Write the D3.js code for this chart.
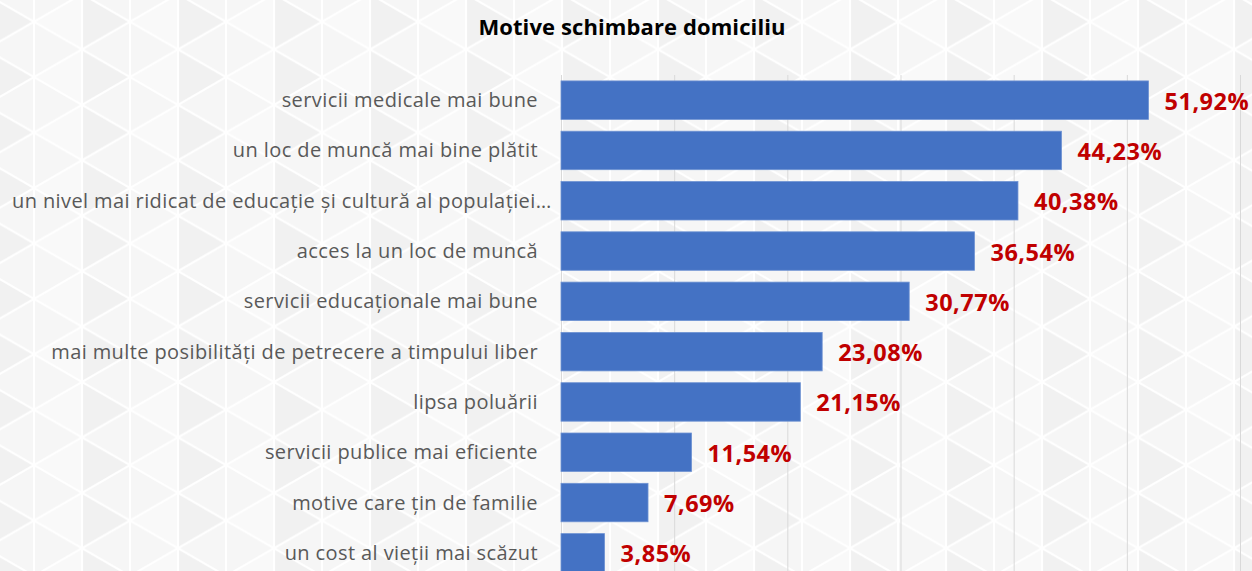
<!DOCTYPE html>
<html>
<head>
<meta charset="utf-8">
<script src="https://cdn.jsdelivr.net/npm/d3@7"></script>
<style>
  html, body { margin: 0; padding: 0; background: #ffffff; }
  svg { display: block; }
</style>
</head>
<body>
<svg id="chart" width="1252" height="571"></svg>
<script>
// Reasons for changing residence (share of respondents, %)
const categories = [
  "servicii medicale mai bune",
  "un loc de muncă mai bine plătit",
  "un nivel mai ridicat de educație și cultură al populației…",
  "acces la un loc de muncă",
  "servicii educaționale mai bune",
  "mai multe posibilități de petrecere a timpului liber",
  "lipsa poluării",
  "servicii publice mai eficiente",
  "motive care țin de familie",
  "un cost al vieții mai scăzut"
];
const values = [51.92, 44.23, 40.38, 36.54, 30.77, 23.08, 21.15, 11.54, 7.69, 3.85];
const xTicks = [0, 10, 20, 30, 40, 50, 60];
const title = "Motive schimbare domiciliu";

const W = 1252, H = 571;
const svg = d3.select("#chart");
const FONT = "'Open Sans', Lato, sans-serif";

// Light triangular background texture
const defs = svg.append("defs");
const tw = 48, th = tw / Math.cos(Math.PI / 6);
const pat = defs.append("pattern")
  .attr("id", "tri")
  .attr("patternUnits", "userSpaceOnUse")
  .attr("width", tw * 2)
  .attr("height", th)
  .attr("x", -14).attr("y", -6);
pat.append("rect").attr("width", tw * 2).attr("height", th).attr("fill", "#f6f6f6");
pat.append("path")
  .attr("d", `M0,0 L${tw},${th/2} L0,${th} Z`)
  .attr("fill", "#f1f1f1");
pat.append("path")
  .attr("d", `M${tw*2},0 L${tw},${th/2} L${tw*2},${th} Z`)
  .attr("fill", "#f9f9f9");
pat.append("path")
  .attr("d", `M0,0 L${tw*2},${th} M0,${th} L${tw*2},0 M${tw},0 L${tw},${th} M0,0 L0,${th} M${tw*2},0 L${tw*2},${th}
              M${-tw},${th/2} L${tw},${th*1.5} M${tw},${-th/2} L${tw*3},${th/2}
              M${-tw},${th/2} L${tw},${-th/2} M${tw},${th*1.5} L${tw*3},${th/2}`)
  .attr("stroke", "#ffffff")
  .attr("stroke-width", 2.2)
  .attr("fill", "none");
svg.append("rect").attr("width", W).attr("height", H).attr("fill", "url(#tri)");

// Scales
const x = d3.scaleLinear().domain([0, 60]).range([561, 1240]);
const y = d3.scaleBand().domain(categories).range([75, 578]).paddingInner(0.235).paddingOuter(0.1175);

// Vertical gridlines
svg.append("g")
  .selectAll("line")
  .data(xTicks)
  .join("line")
  .attr("x1", d => x(d) + 0.5).attr("x2", d => x(d) + 0.5)
  .attr("y1", 75).attr("y2", H)
  .attr("stroke", "#d9d9d9")
  .attr("stroke-width", 1);

// Bars
svg.append("g")
  .selectAll("rect")
  .data(values)
  .join("rect")
  .attr("x", x(0))
  .attr("y", (d, i) => y(categories[i]))
  .attr("width", d => x(d) - x(0))
  .attr("height", y.bandwidth())
  .attr("fill", "#4472c4")
  .attr("stroke", "#6f93d3")
  .attr("stroke-width", 0.8);

// Value labels with comma decimal separator
const ro = d3.formatLocale({ decimal: ",", thousands: ".", grouping: [3], currency: ["", " lei"] });
const fmt = ro.format(".2f");
svg.append("g")
  .selectAll("text")
  .data(values)
  .join("text")
  .attr("x", d => x(d) + 16)
  .attr("y", (d, i) => y(categories[i]) + y.bandwidth() / 2 + 9.5)
  .attr("fill", "#c00000")
  .attr("font-family", FONT)
  .attr("font-weight", "bold")
  .attr("font-size", 23.5)
  .attr("letter-spacing", 0.5)
  .text(d => fmt(d) + "%");

// Category labels
const labelRight = 538, labelLeft = 12;
const cat = svg.append("g")
  .selectAll("text")
  .data(categories)
  .join("text")
  .attr("x", labelRight)
  .attr("y", d => y(d) + y.bandwidth() / 2 + 7)
  .attr("text-anchor", "end")
  .attr("fill", "#595959")
  .attr("font-family", FONT)
  .attr("font-size", 20)
  .attr("letter-spacing", 0.4)
  .text(d => d);
cat.each(function () {
  const t = d3.select(this);
  if (this.getComputedTextLength() > labelRight - labelLeft) {
    t.attr("text-anchor", "start").attr("x", labelLeft);
  }
});

// Title
svg.append("text")
  .attr("x", 632)
  .attr("y", 35)
  .attr("text-anchor", "middle")
  .attr("fill", "#000000")
  .attr("font-family", FONT)
  .attr("font-weight", "bold")
  .attr("font-size", 22)
  .attr("letter-spacing", 0.1)
  .text(title);
</script>
</body>
</html>
